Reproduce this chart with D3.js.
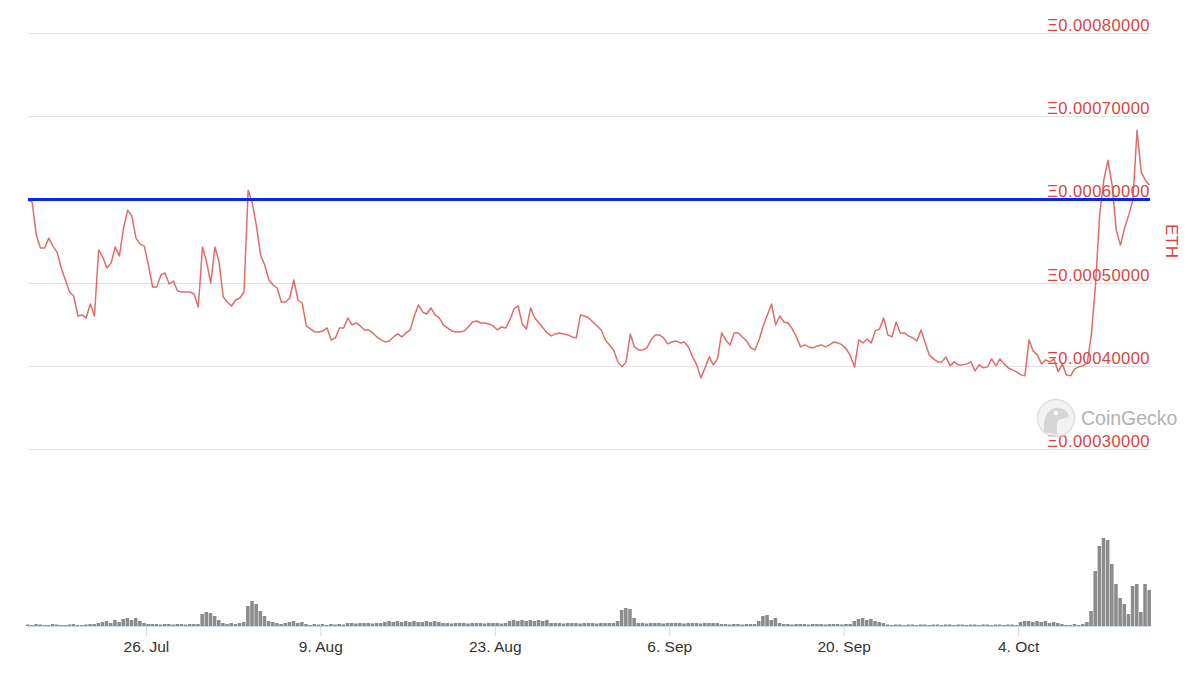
<!DOCTYPE html>
<html><head><meta charset="utf-8">
<script src="https://cdn.jsdelivr.net/npm/d3@7"></script>
<style>
body{margin:0;background:#fff;}
svg{display:block;font-family:"Liberation Sans",Arial,Helvetica,sans-serif;}
</style>
</head><body>
<svg id="chart" width="1200" height="674"></svg>
<script>
// ---------- DATA ----------
const startTime = "2021-07-16T13:00:00Z";   // first sample
const stepHours = 8;                         // sample spacing

// price in ETH, one value every 8 hours
const priceValues = [
0.0005991,0.0005967,0.0005571,0.0005415,0.0005415,0.0005535,0.0005439,0.0005367,0.0005175,0.0005031,
0.0004887,0.0004839,0.0004599,0.0004611,0.0004575,0.0004743,0.0004599,0.0005391,0.0005307,0.0005175,
0.0005235,0.0005427,0.0005319,0.0005655,0.0005871,0.0005799,0.0005535,0.0005463,0.0005439,0.0005211,
0.0004947,0.0004947,0.0005091,0.0005115,0.0004983,0.0005019,0.0004899,0.0004887,0.0004887,0.0004887,
0.0004863,0.0004707,0.0005427,0.0005247,0.0004995,0.0005427,0.0005247,0.0004827,0.0004767,0.0004719,
0.0004791,0.0004815,0.0004887,0.0006111,0.0005955,0.0005679,0.0005331,0.0005211,0.0005031,0.0004971,
0.0004935,0.0004767,0.0004767,0.0004815,0.0005031,0.0004791,0.0004755,0.0004479,0.0004443,0.0004407,
0.0004407,0.0004419,0.0004455,0.0004311,0.0004335,0.0004455,0.0004455,0.0004575,0.0004491,0.0004515,
0.0004479,0.0004431,0.0004431,0.0004395,0.0004347,0.0004311,0.0004287,0.0004299,0.0004347,0.0004383,
0.0004347,0.0004395,0.0004431,0.0004599,0.0004731,0.0004647,0.0004623,0.0004695,0.0004611,0.0004575,
0.0004491,0.0004455,0.0004419,0.0004407,0.0004407,0.0004419,0.0004467,0.0004527,0.0004539,0.0004515,
0.0004515,0.0004503,0.0004479,0.0004431,0.0004467,0.0004455,0.0004551,0.0004683,0.0004719,0.0004503,
0.0004443,0.0004695,0.0004575,0.0004515,0.0004455,0.0004395,0.0004359,0.0004383,0.0004395,0.0004383,
0.0004371,0.0004347,0.0004335,0.0004611,0.0004599,0.0004575,0.0004527,0.0004479,0.0004431,0.0004311,
0.0004251,0.0004191,0.0004047,0.0003987,0.0004047,0.0004383,0.0004227,0.0004191,0.0004191,0.0004215,
0.0004311,0.0004371,0.0004371,0.0004335,0.0004263,0.0004287,0.0004299,0.0004275,0.0004287,0.0004227,
0.0004107,0.0004011,0.0003855,0.0003975,0.0004107,0.0004011,0.0004083,0.0004395,0.0004311,0.0004251,
0.0004395,0.0004395,0.0004347,0.0004299,0.0004215,0.0004191,0.0004311,0.0004479,0.0004611,0.0004743,
0.0004491,0.0004599,0.0004527,0.0004515,0.0004443,0.0004347,0.0004227,0.0004251,0.0004227,0.0004215,
0.0004239,0.0004251,0.0004227,0.0004251,0.0004287,0.0004275,0.0004251,0.0004203,0.0004119,0.0003987,
0.0004311,0.0004275,0.0004323,0.0004275,0.0004419,0.0004443,0.0004575,0.0004371,0.0004347,0.0004527,
0.0004395,0.0004395,0.0004359,0.0004335,0.0004299,0.0004431,0.0004275,0.0004131,0.0004083,0.0004047,
0.0004047,0.0004107,0.0003999,0.0004047,0.0004011,0.0004011,0.0004023,0.0004047,0.0003939,0.0004011,
0.0003975,0.0003987,0.0004083,0.0003999,0.0004083,0.0004023,0.0003975,0.0003951,0.0003927,0.0003891,
0.0003879,0.0004311,0.0004179,0.0004131,0.0004023,0.0004071,0.0004047,0.0004083,0.0003927,0.0004023,
0.0003891,0.0003879,0.0003963,0.0003987,0.0003999,0.0004035,0.0004371,0.0004971,0.0005811,0.0006231,
0.0006471,0.0006171,0.0005631,0.0005451,0.0005655,0.0005811,0.0005991,0.0006831,0.0006327,0.0006231,
0.0006171
];

// trading volume (relative units), one value every 8 hours
const volumeValues = [
1.5,1,2,1.5,1,1,2,1.5,1,1,1.5,2,1,1,1.5,2,
2,3,4,5,3,6,4,7,8,6,8,5,3,
2,2,2,1.5,2,2,1.5,2,2,1.5,2,2,2,
12,14,13,10,6,
3,2,3,2,3,
4,20,25,22,15,10,5,4,3,2,3,
4,5,3,4,2,
1,2,1.5,2,1,2,1.5,2,1.5,
3,3,2.5,3,3,3,2.5,3,3,
4,5,4,5,4,5,4,5,4,4,5,4,5,4,
3,3,2.5,3,3,3,2.5,3,3,3,2.5,3,3,3,2.5,3,
5,6,5,6,5,6,5,6,5,6,
3,3,3,2.5,3,3,3,2.5,3,3,3,2.5,3,3,3,
3,5,16,18,17,8,
3,3,2.5,3,3,3,2.5,3,3,3,3,2.5,3,3,3,2.5,3,3,3,3,2,2,1.5,2,2,1.5,2,2,2,
5,10,11,6,8,3,
2,2,1.5,2,2,2,1.5,2,2,2,1.5,2,2,2,1.5,2,2,
5,7,8,6,7,5,4,3,
1.5,1,1.5,1.5,1,1.5,1.5,1,1.5,1.5,1,1.5,1.5,1,1.5,1.5,1,1.5,1.5,1,1.5,1.5,1,1.5,1.5,1,1.5,1.5,1,1.5,1.5,1,
4,5,5,4,5,4,5,3,4,3,2,
1,1,2,1,2,4,
15,55,80,88,86,62,42,28,22,12,40,42,14,42,36
];

const yTickValues = [0.0003, 0.0004, 0.0005, 0.0006, 0.0007, 0.0008];
const xTickDates = ["2021-07-26", "2021-08-09", "2021-08-23", "2021-09-06", "2021-09-20", "2021-10-04"];
const referenceLevel = 0.0006;
const axisTitle = "ETH";
const watermarkText = "CoinGecko";

// ---------- CHART ----------
const svg = d3.select("#chart");
const t0 = new Date(startTime);
const times = priceValues.map((_, i) => new Date(t0.getTime() + i * stepHours * 3600e3));
const tEnd = times[times.length - 1];

const x = d3.scaleUtc().domain([t0, tEnd]).range([28, 1149.5]);
const y = d3.scaleLinear().domain([0.0003, 0.0008]).range([449, 33]);
const yv = d3.scaleLinear().domain([0, 90]).range([626, 536]);

const red = "#d8453f";

// gridlines
svg.append("g").selectAll("line").data(yTickValues).join("line")
  .attr("x1", 28).attr("x2", 1150)
  .attr("y1", d => Math.round(y(d)) + 0.5).attr("y2", d => Math.round(y(d)) + 0.5)
  .attr("stroke", "#e3e3e3").attr("stroke-width", 1);

// y labels
svg.append("g").selectAll("text").data(yTickValues).join("text")
  .attr("x", 1150).attr("y", d => y(d) - 2)
  .attr("text-anchor", "end")
  .attr("fill", red).attr("font-size", 16.5).attr("letter-spacing", 0.45)
  .text(d => "\u039E" + d3.format(".8f")(d));

// axis title
svg.append("text")
  .attr("transform", "translate(1166,241) rotate(90)")
  .attr("text-anchor", "middle")
  .attr("fill", red).attr("font-size", 17)
  .text(axisTitle);

// volume bars
const barW = x(times[1]) - x(times[0]);
svg.append("g").selectAll("rect").data(volumeValues).join("rect")
  .attr("x", (d, i) => x(times[i]) - barW / 2)
  .attr("width", Math.max(1, barW - 0.6))
  .attr("y", d => yv(d))
  .attr("height", d => 626 - yv(d))
  .attr("fill", "#8c8c8c");

// x axis
const xAxis = d3.axisBottom(x)
  .tickValues(xTickDates.map(s => new Date(s + "T00:00:00Z")))
  .tickFormat(d3.utcFormat("%-d. %b"))
  .tickSizeOuter(0).tickSize(10).tickPadding(5);
const gx = svg.append("g").attr("transform", "translate(0,626)").call(xAxis);
gx.select(".domain").attr("stroke", "#ccd6eb").attr("d", "M28,0.5H1150");
gx.selectAll(".tick line").attr("stroke", "#ccd6eb");
gx.selectAll(".tick text").attr("fill", "#333").attr("font-size", 15.5)
  .attr("font-family", "'Liberation Sans',Arial,sans-serif");

// price line
const line = d3.line().x((d, i) => x(times[i])).y(d => y(d));
svg.append("path").datum(priceValues)
  .attr("d", line)
  .attr("fill", "none")
  .attr("stroke", "#d9534f").attr("stroke-opacity", 0.85)
  .attr("stroke-width", 1.5).attr("stroke-linejoin", "round");

// reference line
svg.append("line")
  .attr("x1", 28).attr("x2", 1150)
  .attr("y1", y(referenceLevel)).attr("y2", y(referenceLevel))
  .attr("stroke", "#0a24f2").attr("stroke-width", 3);

// watermark
const wm = svg.append("g").attr("opacity", 0.85);
wm.append("circle").attr("cx", 1056).attr("cy", 418).attr("r", 18.5)
  .attr("fill", "#f2f2f2").attr("stroke", "#dadada").attr("stroke-width", 1.5);
wm.append("path")
  .attr("d", "M1044,432 C1043,420 1046,410 1055,408 C1062,407 1068,411 1069,416 C1066,419 1060,418 1058,421 C1056,425 1057,430 1058,435 Z")
  .attr("fill", "#cfcfcf");
wm.append("circle").attr("cx", 1056).attr("cy", 413).attr("r", 2.2).attr("fill", "#fff");
wm.append("text").attr("x", 1081).attr("y", 425)
  .attr("fill", "#a6a6a6").attr("font-size", 19.5)
  .text(watermarkText);
</script>
</body></html>
